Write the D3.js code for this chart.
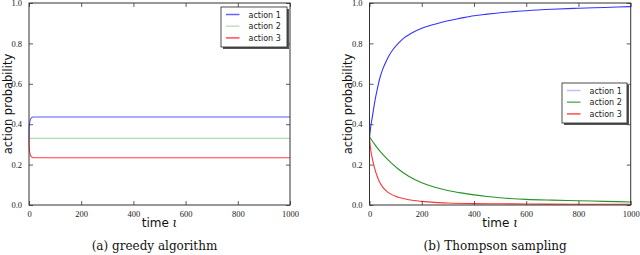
<!DOCTYPE html>
<html>
<head>
<meta charset="utf-8">
<script src="https://cdn.jsdelivr.net/npm/d3@7"></script>
<style>
  body { margin: 0; background: #fff; }
  svg { display: block; }
</style>
</head>
<body>
<svg width="640" height="255"></svg>
<script>
// -------------------- DATA --------------------
const xTicks = [0, 200, 400, 600, 800, 1000];
const yTicks = [0.0, 0.2, 0.4, 0.6, 0.8, 1.0];
const seriesNames = ["action 1", "action 2", "action 3"];

// (a) greedy algorithm
const greedyT1 = [0, 1, 3, 6, 10, 15, 20, 1000];
const greedyA1 = [0.333, 0.39, 0.41, 0.425, 0.432, 0.436, 0.436, 0.436];
const greedyT2 = [0, 2, 1000];
const greedyA2 = [0.333, 0.330, 0.330];
const greedyT3 = [0, 1, 3, 6, 10, 15, 20, 1000];
const greedyA3 = [0.333, 0.28, 0.26, 0.245, 0.238, 0.235, 0.234, 0.234];

// (b) Thompson sampling
const tsT1 = [0, 5, 10, 15, 20, 30, 40, 50, 60, 75, 90, 110, 130, 160, 200, 250, 300, 350, 400, 450, 500, 600, 700, 800, 900, 1000];
const tsA1 = [0.333, 0.39, 0.43, 0.47, 0.51, 0.575, 0.63, 0.67, 0.70, 0.74, 0.77, 0.80, 0.825, 0.85, 0.875, 0.895, 0.912, 0.925, 0.937, 0.945, 0.952, 0.962, 0.969, 0.974, 0.978, 0.982];
const tsT2 = [0, 10, 20, 30, 40, 60, 80, 110, 150, 200, 250, 300, 350, 400, 450, 500, 600, 700, 800, 900, 1000];
const tsA2 = [0.338, 0.318, 0.30, 0.283, 0.267, 0.238, 0.212, 0.178, 0.142, 0.11, 0.088, 0.072, 0.060, 0.050, 0.042, 0.036, 0.028, 0.024, 0.021, 0.018, 0.015];
const tsT3 = [0, 5, 10, 15, 20, 30, 40, 50, 60, 80, 110, 150, 200, 250, 300, 400, 500, 600, 800, 1000];
const tsA3 = [0.333, 0.27, 0.235, 0.206, 0.18, 0.14, 0.11, 0.09, 0.075, 0.055, 0.038, 0.026, 0.018, 0.013, 0.010, 0.007, 0.006, 0.005, 0.004, 0.004];

const panels = [
  {
    x0: 29, x1: 290, caption: "(a) greedy algorithm",
    t: [greedyT1, greedyT2, greedyT3], series: [greedyA1, greedyA2, greedyA3],
    colors: ["#0000ff", "#008000", "#ff0000"],
    opac: [0.65, 0.3, 0.75],
    legendOpac: [0.6, 0.25, 0.7],
    legend: { x: 221, y: 7, w: 66, h: 40 }
  },
  {
    x0: 369.5, x1: 630.7, caption: "(b) Thompson sampling",
    t: [tsT1, tsT2, tsT3], series: [tsA1, tsA2, tsA3],
    colors: ["#0000ff", "#008000", "#ff0000"],
    opac: [0.8, 0.85, 0.8],
    legendOpac: [0.25, 0.6, 0.7],
    legend: { x: 562, y: 83, w: 65, h: 40 }
  }
];

const svg = d3.select("svg");
const yTop = 3, yBottom = 205;

panels.forEach(p => {
  const x = d3.scaleLinear().domain([0, 1000]).range([p.x0, p.x1]);
  const y = d3.scaleLinear().domain([0, 1]).range([yBottom, yTop]);
  const g = svg.append("g");

  // -------------------- LINES --------------------
  p.series.forEach((vals, i) => {
    const pts = p.t[i].map((t, k) => [t, vals[k]]);
    g.append("path")
      .datum(pts)
      .attr("fill", "none")
      .attr("stroke", p.colors[i])
      .attr("stroke-opacity", p.opac[i])
      .attr("stroke-width", 1.1)
      .attr("d", d3.line().x(d => x(d[0])).y(d => y(d[1])).curve(d3.curveMonotoneX));
  });

  // -------------------- AXES (inside ticks, all sides) --------------------
  const tickLen = 4;
  const axColor = "#333";
  g.append("g").attr("transform", `translate(0,${yBottom})`)
    .call(d3.axisBottom(x).tickValues(xTicks).tickSize(-tickLen).tickPadding(6).tickFormat(d3.format("d")))
    .call(a => a.select(".domain").remove());
  g.append("g").attr("transform", `translate(0,${yTop})`)
    .call(d3.axisTop(x).tickValues(xTicks).tickSize(-tickLen).tickFormat(""))
    .call(a => a.select(".domain").remove());
  g.append("g").attr("transform", `translate(${p.x0},0)`)
    .call(d3.axisLeft(y).tickValues(yTicks).tickSize(-tickLen).tickPadding(7).tickFormat(d3.format(".1f")))
    .call(a => a.select(".domain").remove());
  g.append("g").attr("transform", `translate(${p.x1},0)`)
    .call(d3.axisRight(y).tickValues(yTicks).tickSize(-tickLen).tickFormat(""))
    .call(a => a.select(".domain").remove());

  g.selectAll(".tick line").attr("stroke", axColor).attr("stroke-width", 0.8);
  g.selectAll(".tick text")
    .attr("fill", "#222")
    .attr("font-family", "'Liberation Serif', serif")
    .style("font-family", "'Liberation Serif', serif")
    .style("font-size", "8.5px");

  g.append("rect")
    .attr("x", p.x0).attr("y", yTop)
    .attr("width", p.x1 - p.x0).attr("height", yBottom - yTop)
    .attr("fill", "none").attr("stroke", axColor).attr("stroke-width", 1);

  // -------------------- LABELS --------------------
  const cx = (p.x0 + p.x1) / 2;
  const xl = g.append("text")
    .attr("x", cx).attr("y", 226.5)
    .attr("text-anchor", "middle")
    .style("font-family", "'DejaVu Sans', sans-serif")
    .style("font-size", "12px")
    .attr("fill", "#111");
  xl.append("tspan").text("time ");
  xl.append("tspan").style("font-family", "'DejaVu Serif', serif").style("font-style", "italic").text("ι");

  g.append("text")
    .attr("transform", `translate(${p.x0 - 17.5},${(yTop + yBottom) / 2}) rotate(-90)`)
    .attr("text-anchor", "middle")
    .style("font-family", "'DejaVu Sans', sans-serif")
    .style("font-size", "11.5px")
    .attr("fill", "#111")
    .text("action probability");

  g.append("text")
    .attr("x", cx - 5).attr("y", 250)
    .attr("text-anchor", "middle")
    .style("font-family", "'DejaVu Serif', serif")
    .style("font-size", "12px")
    .attr("fill", "#111")
    .text(p.caption);

  // -------------------- LEGEND --------------------
  const L = p.legend;
  const lg = g.append("g");
  lg.append("rect")
    .attr("x", L.x + 2).attr("y", L.y + 2).attr("width", L.w).attr("height", L.h)
    .attr("fill", "#555");
  lg.append("rect")
    .attr("x", L.x).attr("y", L.y).attr("width", L.w).attr("height", L.h)
    .attr("fill", "#fff").attr("stroke", "#222").attr("stroke-width", 0.8);
  seriesNames.forEach((name, i) => {
    const ry = L.y + 7.5 + i * 11.7;
    lg.append("line")
      .attr("x1", L.x + 5).attr("x2", L.x + 18.5)
      .attr("y1", ry).attr("y2", ry)
      .attr("stroke", p.colors[i])
      .attr("stroke-opacity", p.legendOpac[i])
      .attr("stroke-width", 1.5);
    lg.append("text")
      .attr("x", L.x + 27.5).attr("y", ry + 3)
      .style("font-family", "'DejaVu Sans', sans-serif")
      .style("font-size", "8px")
      .attr("fill", "#222")
      .text(name);
  });
});
</script>
</body>
</html>
